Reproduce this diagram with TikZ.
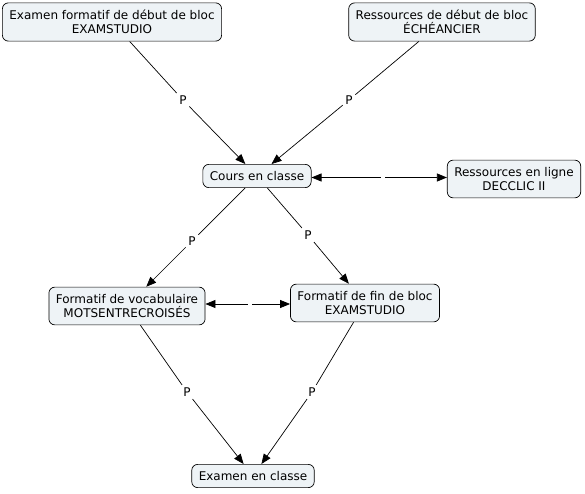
\documentclass[tikz,border=0pt]{standalone}
\usepackage{fontspec}
\setmainfont{DejaVu Sans}
\usetikzlibrary{arrows.meta}
\definecolor{cmapfill}{RGB}{238,243,246}
\begin{document}
\begin{tikzpicture}[x=1pt,y=-1pt,font=\fontsize{12}{14.5}\selectfont,
  concept/.style={draw=black,fill=cmapfill,rounded corners=6pt,align=center,
    inner xsep=7pt,inner ysep=7pt,line width=.7pt},
  lbl/.style={inner sep=2.5pt,font=\fontsize{12}{14}\selectfont},
  link/.style={line width=.7pt},
  arr/.style={link,-{Triangle[length=10pt,width=8pt]}}]
  \path[use as bounding box] (0,0) rectangle (585,494);

  % concepts
  \node[concept] (exfd) at (112,22) {Examen formatif de début de bloc\\EXAMSTUDIO};
  \node[concept] (resd) at (442,22) {Ressources de début de bloc\\ÉCHÉANCIER};
  \node[concept] (cours) at (257,176) {Cours en classe};
  \node[concept] (rel) at (514,179) {Ressources en ligne\\DECCLIC II};
  \node[concept] (voc) at (127,306) {Formatif de vocabulaire\\MOTSENTRECROISÉS};
  \node[concept] (fin) at (365,303) {Formatif de fin de bloc\\EXAMSTUDIO};
  \node[concept] (exam) at (253,476) {Examen en classe};

  % linking phrases
  \node[lbl] (p1) at (183,100) {P};
  \node[lbl] (p2) at (349,100) {P};
  \node[lbl] (p3) at (192,241) {P};
  \node[lbl] (p4) at (308,235) {P};
  \node[lbl] (p5) at (187,392) {P};
  \node[lbl] (p6) at (312,392) {P};
  \node[minimum width=4pt,inner sep=0] (g1) at (383,177.5) {};
  \node[minimum width=4pt,inner sep=0] (g2) at (250,304) {};

  \draw[link] (exfd) -- (p1);
  \draw[arr] (p1) -- (cours);
  \draw[link] (resd) -- (p2);
  \draw[arr] (p2) -- (cours);
  \draw[link] (cours) -- (p3);
  \draw[arr] (p3) -- (voc);
  \draw[link] (cours) -- (p4);
  \draw[arr] (p4) -- (fin);
  \draw[link] (voc) -- (p5);
  \draw[arr] (p5) -- (exam);
  \draw[link] (fin) -- (p6);
  \draw[arr] (p6) -- (exam);

  % double links
  \draw[arr] (g1.west) -- (g1 -| cours.east);
  \draw[arr] (g1.east) -- (g1 -| rel.west);
  \draw[arr] (g2.west) -- (g2 -| voc.east);
  \draw[arr] (g2.east) -- (g2 -| fin.west);
\end{tikzpicture}
\end{document}
